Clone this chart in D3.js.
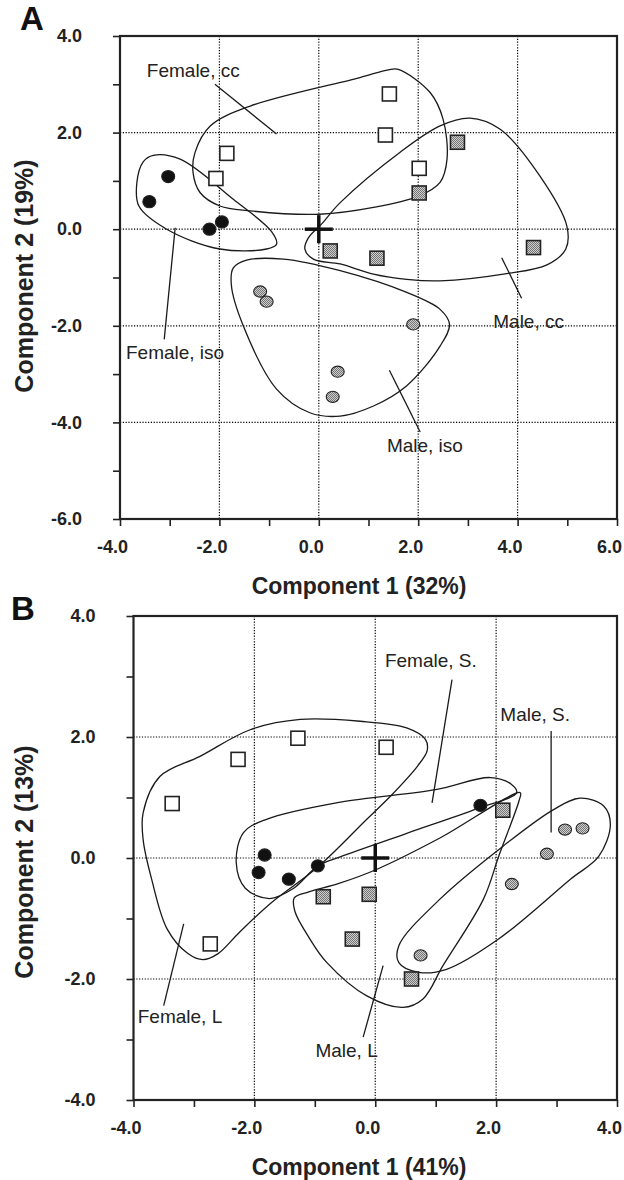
<!DOCTYPE html>
<html>
<head>
<meta charset="utf-8">
<script src="https://cdn.jsdelivr.net/npm/d3@7"></script>
<style>
  body { margin: 0; background: #fff; }
  svg { display: block; font-family: Arial, "Liberation Sans", sans-serif; }
</style>
</head>
<body>
<div id="chart"></div>
<script>
// ---- panel A data (component 1 / component 2 scores) ----
const aFemaleIso = [[-3.41, 0.57], [-3.03, 1.09], [-2.20, 0.00], [-1.95, 0.15]]
const aFemaleCC = [[-1.85, 1.57], [-2.07, 1.05], [1.42, 2.80], [1.34, 1.95], [2.02, 1.26]]
const aMaleCC = [[2.79, 1.80], [2.02, 0.75], [4.32, -0.38], [1.17, -0.60], [0.23, -0.45]]
const aMaleIso = [[-1.18, -1.29], [-1.05, -1.50], [0.38, -2.95], [0.28, -3.47], [1.90, -1.97]]

// hand drawn group outlines, panel A
const aHullFemaleCC = [[0.83, 3.14], [-1.38, 2.55], [-2.18, 2.14], [-2.49, 1.59], [-2.53, 1.17], [-2.39, 0.76],
  [-1.99, 0.48], [-1.38, 0.38], [0.02, 0.31], [1.10, 0.45], [2.02, 0.69], [2.44, 0.97], [2.58, 1.45],
  [2.50, 2.28], [2.24, 2.83], [1.60, 3.31], [1.40, 3.30]]
const aHullFemaleIso = [[-3.33, 1.53], [-2.79, 1.45], [-1.72, 0.62], [-0.95, -0.05], [-0.85, -0.31], [-1.05, -0.41],
  [-1.99, -0.41], [-3.06, 0.00], [-3.62, 0.48], [-3.66, 0.97], [-3.53, 1.40]]
const aHullMaleCC = [[0.43, 0.55], [1.63, 1.59], [2.44, 2.14], [3.04, 2.30], [3.65, 2.07], [4.45, 1.10],
  [4.99, 0.07], [4.97, -0.41], [4.59, -0.74], [3.78, -0.92], [2.44, -1.07], [1.77, -1.04], [1.10, -0.93],
  [0.43, -0.72], [-0.11, -0.62], [-0.28, -0.41], [-0.21, -0.18], [0.05, 0.10]]
const aHullMaleIso = [[-1.72, -0.80], [-1.45, -0.64], [-0.71, -0.62], [0.43, -0.86], [1.77, -1.31], [2.44, -1.66],
  [2.63, -1.97], [2.44, -2.42], [1.77, -3.24], [1.10, -3.66], [0.43, -3.87], [-0.18, -3.80], [-0.85, -3.31],
  [-1.52, -2.00], [-1.76, -1.15]]

// ---- panel B data ----
const bFemaleL = [[-3.36, 0.90], [-2.27, 1.63], [-1.28, 1.98], [0.18, 1.83], [-2.73, -1.42]]
const bFemaleS = [[-1.83, 0.05], [-1.93, -0.24], [-1.43, -0.35], [-0.95, -0.13], [1.74, 0.87]]
const bMaleL = [[2.11, 0.79], [-0.86, -0.64], [-0.10, -0.60], [-0.38, -1.34], [0.60, -2.00]]
const bMaleS = [[3.14, 0.47], [3.43, 0.49], [2.84, 0.07], [2.26, -0.43], [0.75, -1.61]]

const bHullFemaleL = [[-3.84, 0.75], [-3.56, 1.35], [-2.90, 1.68], [-2.07, 2.12], [-1.24, 2.29], [-0.25, 2.26],
  [0.52, 2.15], [0.83, 1.96], [0.86, 1.78], [0.70, 1.52], [0.25, 1.02], [-0.14, 0.64], [-0.95, -0.15],
  [-1.72, -0.74], [-2.25, -1.23], [-2.60, -1.58], [-2.85, -1.68], [-3.10, -1.58], [-3.44, -1.18],
  [-3.70, -0.35], [-3.84, 0.30]]
const bHullFemaleS = [[-2.30, -0.08], [-2.18, 0.42], [-1.80, 0.64], [-0.60, 0.92], [1.00, 1.13], [1.90, 1.33],
  [2.25, 1.22], [2.34, 1.08], [1.70, 0.82], [0.50, 0.40], [-0.58, 0.02], [-0.95, -0.13], [-1.35, -0.50],
  [-1.75, -0.67], [-2.15, -0.50]]
const bHullMaleL = [[2.40, 1.08], [1.07, 0.33], [0.02, -0.19], [-0.60, -0.42], [-1.10, -0.56], [-1.34, -0.66],
  [-1.33, -0.88], [-1.08, -1.34], [-0.80, -1.73], [-0.14, -2.28], [0.46, -2.47], [0.79, -2.33], [1.12, -1.78],
  [1.79, -0.68], [2.05, 0.05], [2.38, 0.95]]
const bHullMaleS = [[3.39, 0.99], [3.78, 0.86], [3.89, 0.55], [3.70, 0.03], [3.23, -0.35], [2.04, -1.34],
  [1.18, -1.84], [0.72, -1.89], [0.39, -1.73], [0.39, -1.45], [1.07, -0.68], [2.12, 0.20], [2.95, 0.80]]

// labels: [text, x, y, leaderFrom, leaderTo] in data units
const aLabels = [
  ["Female, cc", -3.46, 3.15, [-2.09, 3.00], [-0.85, 1.97]],
  ["Female, iso", -3.88, -2.69, [-2.89, 0.03], [-3.11, -2.28]],
  ["Male, cc", 3.51, -2.04, [3.68, -0.59], [4.08, -1.43]],
  ["Male, iso", 1.37, -4.62, [1.42, -2.92], [2.04, -4.20]]
]
const bLabels = [
  ["Female, S.", 0.16, 3.15, [1.27, 2.95], [0.94, 0.91]],
  ["Male, S.", 2.07, 2.26, [2.91, 2.10], [2.91, 0.42]],
  ["Female, L", -3.93, -2.72, [-3.50, -2.44], [-3.17, -1.09]],
  ["Male, L", -0.99, -3.29, [-0.20, -2.96], [0.13, -1.78]]
]

const svg = d3.select('#chart').append('svg')
  .attr('width', 624)
  .attr('height', 1180)

// crosshatch-like grey fill
const defs = svg.append('defs')
const pat = defs.append('pattern').attr('id', 'hatch')
  .attr('width', 2).attr('height', 2).attr('patternUnits', 'userSpaceOnUse')
pat.append('rect').attr('width', 2).attr('height', 2).attr('fill', '#cfcfcf')
pat.append('rect').attr('width', 1).attr('height', 1).attr('fill', '#737373')
pat.append('rect').attr('x', 1).attr('y', 1).attr('width', 1).attr('height', 1).attr('fill', '#737373')

const drawPanel = (cfg) => {
  const x = d3.scaleLinear().domain(cfg.xDomain).range([cfg.left, cfg.right])
  const y = d3.scaleLinear().domain(cfg.yDomain).range([cfg.bottom, cfg.top])
  const g = svg.append('g')

  // dotted grid
  g.append('g').selectAll('line').data(cfg.gridX).enter().append('line')
    .attr('x1', d => x(d)).attr('x2', d => x(d))
    .attr('y1', cfg.top).attr('y2', cfg.bottom)
    .attr('stroke', '#000').attr('stroke-width', 1.2).attr('stroke-dasharray', '1.2,1.6')
  g.append('g').selectAll('line').data(cfg.gridY).enter().append('line')
    .attr('y1', d => y(d)).attr('y2', d => y(d))
    .attr('x1', cfg.left).attr('x2', cfg.right)
    .attr('stroke', '#000').attr('stroke-width', 1.2).attr('stroke-dasharray', '1.2,1.6')

  // axes
  const fmt = d => (Math.abs(d % 2) < 1e-9 ? d.toFixed(1) : '')
  const xAxis = g.append('g').attr('transform', `translate(0,${cfg.bottom})`)
    .call(d3.axisBottom(x).tickValues(d3.range(cfg.xDomain[0], cfg.xDomain[1] + 0.1, 1))
      .tickSize(7).tickSizeOuter(0).tickPadding(14).tickFormat(fmt))
  const yAxis = g.append('g').attr('transform', `translate(${cfg.left},0)`)
    .call(d3.axisLeft(y).tickValues(d3.range(cfg.yDomain[0], cfg.yDomain[1] + 0.1, 1))
      .tickSize(7).tickSizeOuter(0).tickPadding(31).tickFormat(fmt))
  ;[xAxis, yAxis].forEach(a => {
    a.select('.domain').remove()
    a.selectAll('line').attr('stroke', '#222').attr('stroke-width', 1.6)
    a.selectAll('text').attr('font-size', '18px').attr('font-weight', 'bold').attr('fill', '#222')
      .attr('font-family', 'Arial, "Liberation Sans", sans-serif')
  })
  // x labels in the original sit a little left of their ticks
  xAxis.selectAll('text').attr('dx', -8)

  // frame
  g.append('rect').attr('x', cfg.left).attr('y', cfg.top)
    .attr('width', cfg.right - cfg.left).attr('height', cfg.bottom - cfg.top)
    .attr('fill', 'none').attr('stroke', '#222').attr('stroke-width', 2.2)

  // outlines
  const hull = d3.line().x(d => x(d[0])).y(d => y(d[1])).curve(d3.curveCatmullRomClosed.alpha(0.5))
  g.append('g').selectAll('path').data(cfg.hulls).enter().append('path')
    .attr('d', hull).attr('fill', 'none').attr('stroke', '#1a1a1a').attr('stroke-width', 1.3)

  // leader lines + labels
  g.append('g').selectAll('line').data(cfg.labels).enter().append('line')
    .attr('x1', d => x(d[3][0])).attr('y1', d => y(d[3][1]))
    .attr('x2', d => x(d[4][0])).attr('y2', d => y(d[4][1]))
    .attr('stroke', '#1a1a1a').attr('stroke-width', 1.3)
  g.append('g').selectAll('text').data(cfg.labels).enter().append('text')
    .attr('x', d => x(d[1])).attr('y', d => y(d[2]))
    .attr('font-size', '19px').attr('fill', '#222')
    .text(d => d[0])

  // centroid cross
  g.append('line').attr('x1', x(0) - 14).attr('x2', x(0) + 14).attr('y1', y(0)).attr('y2', y(0))
    .attr('stroke', '#111').attr('stroke-width', 3.5)
  g.append('line').attr('x1', x(0)).attr('x2', x(0)).attr('y1', y(0) - 14).attr('y2', y(0) + 14)
    .attr('stroke', '#111').attr('stroke-width', 3.5)

  // markers
  const squares = (data, fill) => g.append('g').selectAll('rect').data(data).enter().append('rect')
    .attr('x', d => x(d[0]) - 7).attr('y', d => y(d[1]) - 7)
    .attr('width', 14).attr('height', 14)
    .attr('fill', fill).attr('stroke', '#222').attr('stroke-width', 1.6)
  const dots = (data, fill, rx, ry) => g.append('g').selectAll('ellipse').data(data).enter().append('ellipse')
    .attr('cx', d => x(d[0])).attr('cy', d => y(d[1]))
    .attr('rx', rx).attr('ry', ry)
    .attr('fill', fill).attr('stroke', '#222').attr('stroke-width', 1.1)
  squares(cfg.openSq, '#fff')
  squares(cfg.greySq, 'url(#hatch)')
  dots(cfg.blackDots, '#111', 6.5, 6.1)
  dots(cfg.greyDots, 'url(#hatch)', 6.5, 5.6)

  // titles
  svg.append('text').attr('x', cfg.letterX).attr('y', cfg.letterY)
    .attr('font-size', '33px').attr('font-weight', 'bold').attr('fill', '#111').text(cfg.letter)
  svg.append('text').attr('x', 359).attr('y', cfg.xTitleY).attr('text-anchor', 'middle')
    .attr('font-size', '23px').attr('font-weight', 'bold').attr('fill', '#222').text(cfg.xTitle)
  svg.append('text').attr('transform', `translate(33,${cfg.yTitleMid}) rotate(-90)`)
    .attr('text-anchor', 'middle')
    .attr('font-size', '25px').attr('font-weight', 'bold').attr('fill', '#222').text(cfg.yTitle)
}

drawPanel({
  letter: 'A', letterX: 20, letterY: 30,
  xDomain: [-4, 6], yDomain: [-6, 4],
  left: 120, right: 617, top: 36, bottom: 519,
  gridX: [-2, 0, 2, 4], gridY: [2, 0, -2, -4],
  hulls: [aHullFemaleCC, aHullFemaleIso, aHullMaleCC, aHullMaleIso],
  labels: aLabels,
  openSq: aFemaleCC, greySq: aMaleCC, blackDots: aFemaleIso, greyDots: aMaleIso,
  xTitle: 'Component 1 (32%)', xTitleY: 594,
  yTitle: 'Component 2 (19%)', yTitleMid: 276
})

drawPanel({
  letter: 'B', letterX: 11, letterY: 620,
  xDomain: [-4, 4], yDomain: [-4, 4],
  left: 133.5, right: 617, top: 616, bottom: 1100,
  gridX: [-2, 0, 2], gridY: [2, 0, -2],
  hulls: [bHullFemaleL, bHullFemaleS, bHullMaleL, bHullMaleS],
  labels: bLabels,
  openSq: bFemaleL, greySq: bMaleL, blackDots: bFemaleS, greyDots: bMaleS,
  xTitle: 'Component 1 (41%)', xTitleY: 1175,
  yTitle: 'Component 2 (13%)', yTitleMid: 862
})
</script>
</body>
</html>
